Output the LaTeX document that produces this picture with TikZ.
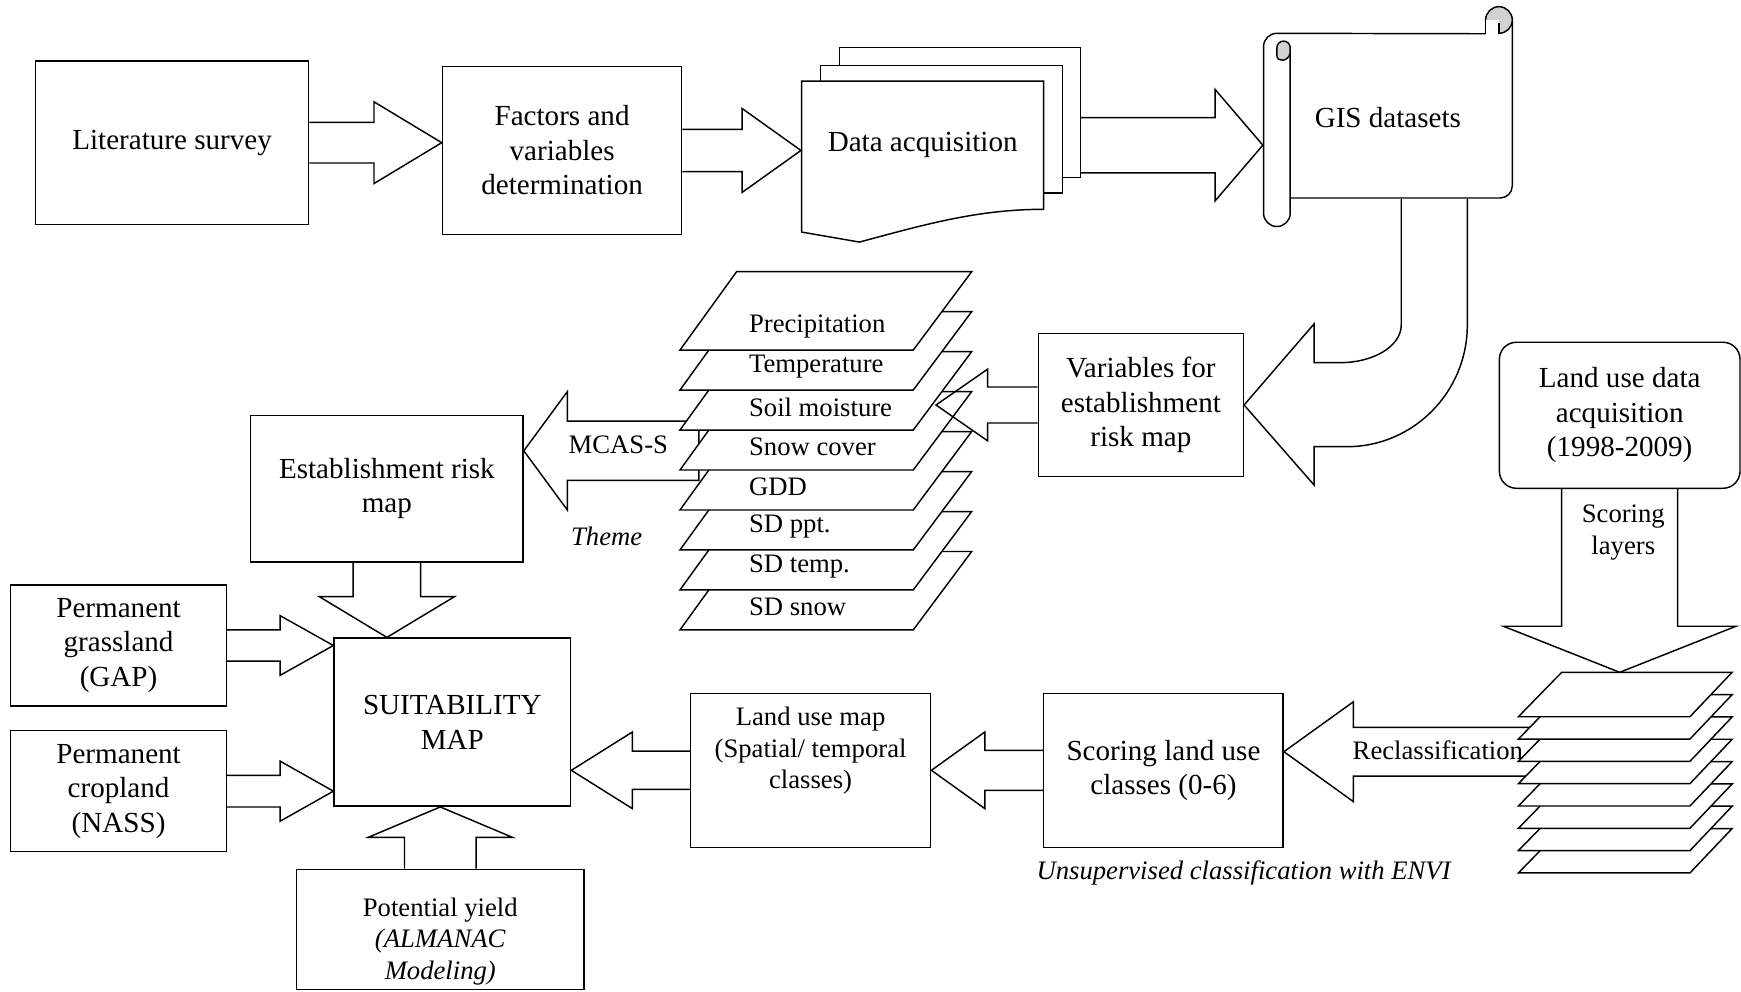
\documentclass[tikz,border=0pt]{standalone}
\usepackage{fontspec}
\setmainfont{Liberation Serif}
\usetikzlibrary{calc}
\newcommand{\pxu}{0.0161cm}

\begin{document}
\begin{tikzpicture}[x=0.0161cm,y=-0.0161cm,line width=0.6pt,
  font=\fontsize{12}{14.2}\selectfont,
  box/.style 2 args={draw,align=center,inner sep=0pt,minimum width=#1*\pxu,minimum height=#2*\pxu},
  harr/.style n args={3}{to path={($(\tikztostart)+(0,{-(#1)})$) -- ($(\tikztotarget)+({-(#3)},{-(#1)})$)
    -- ($(\tikztotarget)+({-(#3)},{-(#2)})$) -- (\tikztotarget) -- ($(\tikztotarget)+({-(#3)},{#2})$)
    -- ($(\tikztotarget)+({-(#3)},{#1})$) -- ($(\tikztostart)+(0,{#1})$)}},
  harrc/.style n args={3}{to path={($(\tikztostart)+(0,{-(#1)})$) -- ($(\tikztotarget)+({-(#3)},{-(#1)})$)
    -- ($(\tikztotarget)+({-(#3)},{-(#2)})$) -- (\tikztotarget) -- ($(\tikztotarget)+({-(#3)},{#2})$)
    -- ($(\tikztotarget)+({-(#3)},{#1})$) -- ($(\tikztostart)+(0,{#1})$) -- cycle}},
  varr/.style n args={3}{to path={($(\tikztostart)+({-(#1)},0)$) -- ($(\tikztotarget)+({-(#1)},{-(#3)})$)
    -- ($(\tikztotarget)+({-(#2)},{-(#3)})$) -- (\tikztotarget) -- ($(\tikztotarget)+({#2},{-(#3)})$)
    -- ($(\tikztotarget)+({#1},{-(#3)})$) -- ($(\tikztostart)+({#1},0)$)}}]
  \tikzstyle{layer}=[draw,fill=white]
  \tikzstyle{small}=[font=\fontsize{11}{13}\selectfont,inner sep=1pt]

  \useasboundingbox (0,0) rectangle (1568,893);

  % first row
  \node[box={246}{147}] (lit) at (155,128.5) {Literature survey};
  \node[box={215.5}{151}] (fac) at (506.25,135.5) {Factors and\\variables\\determination};
  \node[box={217}{117},fill=white] (dat3) at (864.5,101.5) {};
  \node[box={218}{115},fill=white] (dat2) at (848,116.5) {};
  \draw[fill=white] (722,73) -- (940,73) -- (940,188.5) .. controls (880,188.5) and (832,202.5) .. (774,218) -- (722,209) -- cycle;
  \node[box={218}{115.5},draw=none] (dat) at (831,130.75) {Data acquisition};

  % scroll
  \draw (1138,192) -- (1138,42) arc[start angle=180,end angle=270,radius=12] -- (1338,30.4);
  \draw[rounded corners=5pt] (1362,18) -- (1362,178.3) -- (1162,178.3);
  \draw (1162,43) -- (1162,192) arc[start angle=0,end angle=180,radius=12];
  \filldraw[fill=gray!35] (1162,43) arc[start angle=0,end angle=-180,radius=6] -- (1150,50)
    .. controls (1150,56) and (1160,56) .. (1162,48) -- cycle;
  \filldraw[fill=gray!35] (1350,18) circle[radius=12];
  \fill[white] (1338,18) rectangle (1350,30.4);
  \draw (1338,18) -- (1338,30.4) (1350,21) -- (1350,30.4);
  \node[box={224}{145},draw=none] (gis) at (1250,106) {GIS datasets};

  % middle
  \node[box={184.6}{129.1}] (var) at (1027.5,364.75) {Variables for\\establishment\\risk map};
  \node[box={216.7}{131.5},rounded corners=7pt] (lud) at (1458.75,374) {Land use data\\acquisition\\(1998-2009)};
  \node[box={245.3}{131.7}] (est) at (348.45,440.15) {Establishment risk\\map};

  % bottom
  \node[box={213}{151.4}] (suit) at (407.4,650.4) {SUITABILITY\\MAP};
  \node[box={194.4}{109.3}] (gra) at (106.8,581.35) {Permanent\\grassland\\(GAP)};
  \node[box={194.4}{108.9}] (cro) at (106.8,712.55) {Permanent\\cropland\\(NASS)};
  \node[box={258.9}{108}] (pot) at (396.55,837) {};
  \node[small,align=center] (potT) at ($(pot.center)+(0,11)$) {Potential yield\\\textit{(ALMANAC}\\\textit{Modeling)}};
  \node[box={216.3}{138.7}] (lmap) at (730.05,693.75) {};
  \node[small,align=center] (lmapT) at ($(lmap.center)+(0,-17.5)$) {Land use map\\(Spatial/ temporal\\classes)};
  \node[box={215.7}{138.7}] (sco) at (1047.85,693.75) {Scoring land use\\classes (0-6)};

  \coordinate (vtip) at (843,365.7);
  \coordinate (mcas) at (629.5,406);
  \coordinate (rcl) at (1450,677);
  \coordinate (rtop) at (1462,605.5);

  % block arrows
  \draw[harr={18.3}{36.8}{61}] (lit.east) to (lit.east -| fac.west);
  \draw[harr={19}{37.8}{53}] (fac.east) to (fac.east -| dat.west);
  \draw[harr={24.9}{50.2}{43}] (dat3.east |- dat.center) to (dat.center -| gis.west);
  \draw ($(gis.south)+(12,0)$) -- (1262,292.7) .. controls (1262,311.5) and (1237.4,326.6) .. (1207,326.6)
    -- ($(var.east)+(63,-38.2)$) -- ($(var.east)+(63,-73)$) -- (var.east) -- ($(var.east)+(63,72)$)
    -- ($(var.east)+(63,37.5)$) -- (1213,402.3) .. controls (1272.9,402.3) and (1321.5,353.2) .. (1321.5,292.7)
    -- ($(gis.south)+(71.5,0)$);
  \draw[harrc={26.7}{53.3}{-39.2}] (mcas) to (mcas -| est.east);
  \draw[varr={30.4}{60.9}{36.7}] (est.south) to (est.south |- suit.north);
  \draw[harr={14.1}{26.9}{48}] (gra.east) to (gra.east -| suit.west);
  \draw[harr={14.25}{27.1}{48}] (cro.east) to (cro.east -| suit.west);
  \draw[varr={32.25}{65}{-27.4}] (pot.north) to (pot.north |- suit.south);
  \draw[harr={17.25}{34.5}{-55}] (lmap.west) to (lmap.west -| suit.east);
  \draw[harr={18}{34.5}{-48.1}] (sco.west) to (sco.west -| lmap.east);
  \draw[harr={22}{45}{-62.6}] (rcl) to (rcl -| sco.east);
  \draw[varr={52.25}{104.75}{41.5}] (lud.south) to (lud.south |- rtop);

  % layer stacks
  \foreach \i/\nm in {7/SD snow,6/SD temp.,5/SD ppt.,4/GDD,3/Snow cover,2/Soil moisture,1/Temperature,0/Precipitation}{
    \draw[layer] (612.4,{315.3+36*\i}) -- ++(210.1,0) -- ++(52.6,-70.6) -- ++(-211.7,0) -- cycle;
    \node[small,anchor=west,inner sep=0pt] (lay\i) at (674,{294.5+36*\i}) {\nm};
  }
  \foreach \i in {7,6,...,0}
    \draw[layer] (1367.5,{645.5+20.1*\i}) -- ++(154.5,0) -- ++(38,-40) -- ++(-153.5,0) -- cycle;

  % arrow over the first stack
  \draw[harr={16.2}{32.3}{-46.5}] (var.west) to (var.west -| vtip);

  % labels
  \node[small] (mcasl) at (556.9,400.2) {MCAS-S};
  \node[small] (theme) at (546.4,483.4) {\itshape Theme};
  \node[small] (recl) at (1295,675.5) {Reclassification};
  \node[small,align=center] (scol) at (1462,479.6) {Scoring\\layers};
  \node[small] (envi) at (1120,786.5) {\itshape Unsupervised classification with ENVI};
\end{tikzpicture}
\end{document}
